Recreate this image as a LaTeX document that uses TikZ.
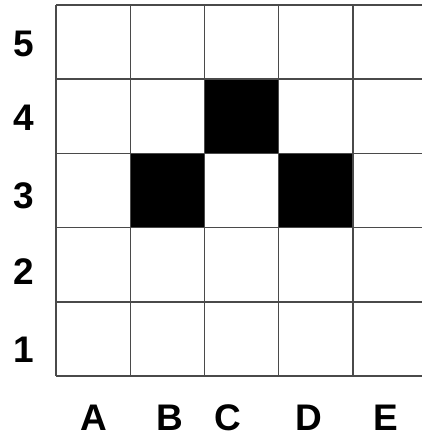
\documentclass[tikz,border=0pt]{standalone}
\usepackage{fontspec}
\setmainfont{Liberation Sans}
\usepackage{tikz}
\usetikzlibrary{positioning}
\definecolor{gridStroke}{HTML}{4A4A4A}
\tikzset{
	% thin grey board lines
	gridline/.style={draw=gridStroke, line width=1.4pt},
	% black squares
	filled cell/.style={fill=black},
	% row and column labels
	axlbl/.style={font=\fontsize{37}{40}\selectfont\bfseries,
		text=black, inner sep=0pt}
}
\begin{document}
\begin{tikzpicture}[x=1pt,y=-1pt]
	\useasboundingbox (0,0) rectangle (422,441);
	
	%--- Black Cells (column/row index) ----------------------------------
	\foreach \c/\r in {2/4, 1/3, 3/3}
		\fill[filled cell] ({56+\c*74.2},{5+(5-\r)*74.2})
			rectangle ++(74.2,74.2);
	
	%--- Grid Lines --------------------------------------------------------
	\foreach \i in {0,...,5}{
		\draw[gridline] ({56+\i*74.2},5) -- ({56+\i*74.2},376);
		\draw[gridline] (56,{5+\i*74.2}) -- (422,{5+\i*74.2});
	}
	
	%--- Row Labels --------------------------------------------------------
	\foreach \n/\y in {5/44, 4/118, 3/196, 2/272, 1/350}
		\node[axlbl] (row\n) at (24,\y) {\n};
	
	%--- Column Labels -----------------------------------------------------
	\foreach \l/\x in {A/94, B/170, C/228, D/309, E/386}
		\node[axlbl] (col\l) at (\x,418) {\l};
	
\end{tikzpicture}
\end{document}
